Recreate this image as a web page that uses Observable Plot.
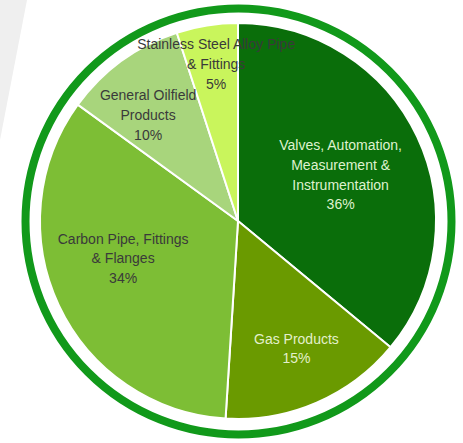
<!DOCTYPE html>
<html>
<head>
<meta charset="utf-8">
<script src="https://cdn.jsdelivr.net/npm/d3@7"></script>
<script src="https://cdn.jsdelivr.net/npm/@observablehq/plot@0.6"></script>
<style>
  html, body { margin: 0; padding: 0; background: #ffffff; }
  #wrap { position: relative; width: 463px; height: 443px; overflow: hidden; }
  #swoosh { position: absolute; left: 0; top: 0; width: 60px; height: 200px;
            background: #efefef; clip-path: polygon(0 0, 27px 0, 0 140px); }
  #chart { position: absolute; left: 0; top: 0; }
</style>
</head>
<body>
<div id="wrap"><div id="swoosh"></div><div id="chart"></div></div>
<script>
// Data
const categories = [
  "Valves, Automation,\nMeasurement &\nInstrumentation",
  "Gas Products",
  "Carbon Pipe, Fittings\n& Flanges",
  "General Oilfield\nProducts",
  "Stainless Steel Alloy Pipe\n& Fittings"
];
const shares = [36, 15, 34, 10, 5];
const percentLabels = ["36%", "15%", "34%", "10%", "5%"];

// Styles / layout (not data)
const sliceColors = ["#0a6e0a", "#6a9a00", "#7dbe35", "#a8d57c", "#c9f55c"];
const labelColors = ["#dff2cf", "#e3f0cc", "#3a3a3a", "#3a3a3a", "#3a3a3a"];
const labelRadius = [0.57, 0.70, 0.61, 0.71, 0.81];
const labelAngleShift = [0, -1.3, 8, -4, 1]; // degrees

const pie = d3.pie().sort(null).value(d => d)(shares);
const rows = categories.map((c, i) => {
  const a0 = pie[i].startAngle, a1 = pie[i].endAngle;
  const mid = (a0 + a1) / 2 + labelAngleShift[i] * Math.PI / 180;
  const r = labelRadius[i];
  return {
    label: c + "\n" + percentLabels[i],
    a0, a1,
    lx: r * Math.sin(mid),
    ly: r * Math.cos(mid),
    color: sliceColors[i],
    textColor: labelColors[i]
  };
});

const slicesMark = (index, scales) => {
  const cx = scales.x(0), cy = scales.y(0);
  const R = scales.x(1) - scales.x(0);
  const g = d3.create("svg:g");
  const arc = d3.arc().innerRadius(0).outerRadius(R);
  g.selectAll("path").data(rows).join("path")
    .attr("transform", `translate(${cx},${cy})`)
    .attr("d", d => arc({startAngle: d.a0, endAngle: d.a1}))
    .attr("fill", d => d.color)
    .attr("stroke", "#ffffff")
    .attr("stroke-width", 2)
    .attr("stroke-linejoin", "round");
  return g.node();
};

const chart = Plot.plot({
  width: 463,
  height: 443,
  margin: 0,
  x: {domain: [-1, 1], range: [40, 436], axis: null},
  y: {domain: [-1, 1], range: [419, 23], axis: null},
  style: {background: "transparent", fontFamily: "'Liberation Sans', Arial, sans-serif"},
  marks: [
    Plot.dot([{x: 0, y: 0}], {x: "x", y: "y", r: 213, fill: "none", stroke: "#11991a", strokeWidth: 8}),
    slicesMark,
    Plot.text(rows, {
      x: "lx", y: "ly", text: "label",
      fill: "textColor",
      fontSize: 14,
      lineHeight: 1.4
    })
  ]
});
document.getElementById("chart").appendChild(chart);
</script>
</body>
</html>
